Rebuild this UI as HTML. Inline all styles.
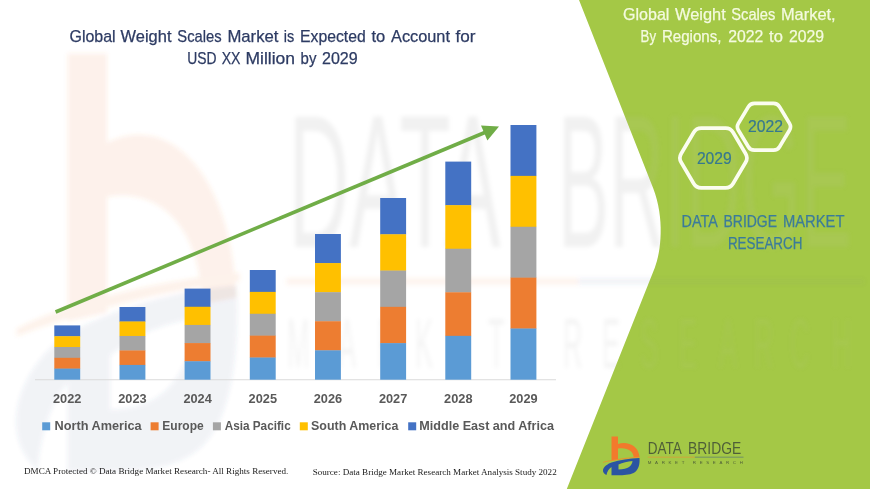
<!DOCTYPE html>
<html><head><meta charset="utf-8">
<style>
html,body{margin:0;padding:0;background:#fff;}
body{width:870px;height:489px;overflow:hidden;font-family:"Liberation Sans",sans-serif;}
svg{display:block;}
text{font-family:"Liberation Sans",sans-serif;}
.serif text,.serif{font-family:"Liberation Serif",serif;}
</style></head><body>
<svg width="870" height="489" viewBox="0 0 870 489">
<defs>
<filter id="b1" x="-5%" y="-5%" width="110%" height="110%"><feGaussianBlur stdDeviation="2.2"/></filter>
<g id="lgmark">
  <path d="M0,0 H6.5 V7.5 C16,4.5 27,9 28,20.5 L22.3,21.2 C22,14 15,10.5 6.5,12 V23.2 L0,24 Z" fill="#f27a2c"/>
  <path d="M-8.5,25.5 C0,23 15,21 28.5,20.3 L28.5,21.1 C15,22 0,24.3 -8.5,26.2 Z" fill="#e9922e"/>
  <path d="M-8.5,33.5 C-8,30 -3,27 0,26 C8,23.5 18,22 28,21.5 C28.5,28 27,34 22,36.5 C18,38.5 12,38.7 6.5,38.7 L0,38.7 L0,30.5 C-2.5,32 -4.5,35 -5,38.5 C-7,37.5 -8.8,36 -8.5,33.5 Z M7,28 C11,26 16,25 21,24.5 C20.5,29 17,33 7,33 Z" fill="#2b54a2" fill-rule="evenodd"/>
</g>
<g id="lgtext">
  <text x="36.25" y="17.8" font-size="17.4" textLength="34.1" lengthAdjust="spacingAndGlyphs">DATA</text>
  <text x="76.6" y="17.8" font-size="17.4" textLength="53.1" lengthAdjust="spacingAndGlyphs">BRIDGE</text>
  <text x="36.3" y="27.9" font-size="4.4" textLength="95" lengthAdjust="spacing">MARKET RESEARCH</text>
</g>
<clipPath id="pc"><path d="M579,0 L653.1,188 C664.9,218 661.1,252 654.7,268 L566.8,489 L870,489 L870,0 Z"/></clipPath>
<g id="wm" filter="url(#b1)">
 <g transform="translate(67.8,53.4) scale(6.03,10.8)">
  <g opacity="0.1">
  <path d="M0,0 H6.5 V8.3 C16,5.5 27,10.5 28,22.6 L22.3,23.2 C22,16 15,12.4 6.5,13.3 V24 L0,24.8 Z" fill="#ec7242"/>
  <path d="M-8.5,25.5 C0,23 15,21 28.5,20.3 L28.5,21.1 C15,22 0,24.3 -8.5,26.2 Z" fill="#ec7f42"/>
  <rect x="36.3" y="20.85" width="48.3" height="0.55" fill="#ec7f42"/>
  </g>
  <g opacity="0.075">
  <path d="M-8.5,33.5 C-8,30 -3,27 0,26 C8,23.5 18,22 28,21.5 C28.5,28 27,34 22,36.5 C18,38.5 12,38.7 6.5,38.7 L0,38.7 L0,30.5 C-2.5,32 -4.5,35 -5,38.5 C-7,37.5 -8.8,36 -8.5,33.5 Z M7,28 C11,26 16,25 21,24.5 C20.5,29 17,33 7,33 Z" fill="#2f4f8c" fill-rule="evenodd"/>
  <rect x="84.6" y="20.85" width="47.5" height="0.55" fill="#44608a"/>
  </g>
 </g>
 <g opacity="0.055" fill="#303030" font-size="189">
  <text x="288.6" y="247" textLength="212" lengthAdjust="spacingAndGlyphs">DATA</text>
  <text x="558" y="247" textLength="294" lengthAdjust="spacingAndGlyphs">BRIDGE</text>
 </g>
 <g opacity="0.045" fill="#303030" font-size="71">
  <text transform="translate(287,368) scale(0.38,1)">M</text>
  <text transform="translate(338,368) scale(0.38,1)">A</text>
  <text transform="translate(377,368) scale(0.38,1)">R</text>
  <text transform="translate(415,368) scale(0.38,1)">K</text>
  <text transform="translate(452,368) scale(0.38,1)">E</text>
  <text transform="translate(488,368) scale(0.38,1)">T</text>
  <text transform="translate(563,368) scale(0.38,1)">R</text>
  <text transform="translate(602,368) scale(0.38,1)">E</text>
  <text transform="translate(640,368) scale(0.38,1)">S</text>
  <text transform="translate(679,368) scale(0.38,1)">E</text>
  <text transform="translate(719,368) scale(0.38,1)">A</text>
  <text transform="translate(754,368) scale(0.38,1)">R</text>
  <text transform="translate(790,368) scale(0.38,1)">C</text>
  <text transform="translate(832,368) scale(0.38,1)">H</text>
 </g>
</g>
<g id="wmg" filter="url(#b1)">
 <g opacity="0.11" fill="#c4c8b8" font-size="189">
  <text x="558" y="247" textLength="294" lengthAdjust="spacingAndGlyphs">BRIDGE</text>
 </g>
 <g opacity="0.08" fill="#c4c8b8" font-size="71">
  <text transform="translate(287,368) scale(0.38,1)">M</text>
  <text transform="translate(338,368) scale(0.38,1)">A</text>
  <text transform="translate(377,368) scale(0.38,1)">R</text>
  <text transform="translate(415,368) scale(0.38,1)">K</text>
  <text transform="translate(452,368) scale(0.38,1)">E</text>
  <text transform="translate(488,368) scale(0.38,1)">T</text>
  <text transform="translate(563,368) scale(0.38,1)">R</text>
  <text transform="translate(602,368) scale(0.38,1)">E</text>
  <text transform="translate(640,368) scale(0.38,1)">S</text>
  <text transform="translate(679,368) scale(0.38,1)">E</text>
  <text transform="translate(719,368) scale(0.38,1)">A</text>
  <text transform="translate(754,368) scale(0.38,1)">R</text>
  <text transform="translate(790,368) scale(0.38,1)">C</text>
  <text transform="translate(832,368) scale(0.38,1)">H</text>
 </g>
 <rect x="578" y="278.6" width="286" height="6" fill="#5a7a9a" opacity="0.05"/>
</g>
</defs>
<rect width="870" height="489" fill="#ffffff"/>

<!-- watermark (white area) -->
<use href="#wm"/>

<!-- green panel -->
<path id="panel" d="M579,0 L653.1,188 C664.9,218 661.1,252 654.7,268 L566.8,489 L870,489 L870,0 Z" fill="#a4c846"/>
<g clip-path="url(#pc)"><use href="#wmg"/></g>

<!-- axis -->
<rect x="35" y="379.25" width="521" height="1" fill="#dadada"/>

<!-- bars -->
<g id="bars">
<rect x="54.3" y="325.40" width="25.9" height="11.10" fill="#4472c4"/>
<rect x="54.3" y="336.20" width="25.9" height="11.10" fill="#ffc000"/>
<rect x="54.3" y="347.00" width="25.9" height="11.10" fill="#a5a5a5"/>
<rect x="54.3" y="357.80" width="25.9" height="11.10" fill="#ed7d31"/>
<rect x="54.3" y="368.60" width="25.9" height="11.10" fill="#5b9bd5"/>
<rect x="119.5" y="307.00" width="25.9" height="14.78" fill="#4472c4"/>
<rect x="119.5" y="321.48" width="25.9" height="14.78" fill="#ffc000"/>
<rect x="119.5" y="335.96" width="25.9" height="14.78" fill="#a5a5a5"/>
<rect x="119.5" y="350.44" width="25.9" height="14.78" fill="#ed7d31"/>
<rect x="119.5" y="364.92" width="25.9" height="14.78" fill="#5b9bd5"/>
<rect x="184.6" y="288.60" width="25.9" height="18.46" fill="#4472c4"/>
<rect x="184.6" y="306.76" width="25.9" height="18.46" fill="#ffc000"/>
<rect x="184.6" y="324.92" width="25.9" height="18.46" fill="#a5a5a5"/>
<rect x="184.6" y="343.08" width="25.9" height="18.46" fill="#ed7d31"/>
<rect x="184.6" y="361.24" width="25.9" height="18.46" fill="#5b9bd5"/>
<rect x="249.8" y="270.00" width="25.9" height="22.18" fill="#4472c4"/>
<rect x="249.8" y="291.88" width="25.9" height="22.18" fill="#ffc000"/>
<rect x="249.8" y="313.76" width="25.9" height="22.18" fill="#a5a5a5"/>
<rect x="249.8" y="335.64" width="25.9" height="22.18" fill="#ed7d31"/>
<rect x="249.8" y="357.52" width="25.9" height="22.18" fill="#5b9bd5"/>
<rect x="315.0" y="234.00" width="25.9" height="29.38" fill="#4472c4"/>
<rect x="315.0" y="263.08" width="25.9" height="29.38" fill="#ffc000"/>
<rect x="315.0" y="292.16" width="25.9" height="29.38" fill="#a5a5a5"/>
<rect x="315.0" y="321.24" width="25.9" height="29.38" fill="#ed7d31"/>
<rect x="315.0" y="350.32" width="25.9" height="29.38" fill="#5b9bd5"/>
<rect x="380.2" y="198.00" width="25.9" height="36.58" fill="#4472c4"/>
<rect x="380.2" y="234.28" width="25.9" height="36.58" fill="#ffc000"/>
<rect x="380.2" y="270.56" width="25.9" height="36.58" fill="#a5a5a5"/>
<rect x="380.2" y="306.84" width="25.9" height="36.58" fill="#ed7d31"/>
<rect x="380.2" y="343.12" width="25.9" height="36.58" fill="#5b9bd5"/>
<rect x="445.3" y="161.60" width="25.9" height="43.86" fill="#4472c4"/>
<rect x="445.3" y="205.16" width="25.9" height="43.86" fill="#ffc000"/>
<rect x="445.3" y="248.72" width="25.9" height="43.86" fill="#a5a5a5"/>
<rect x="445.3" y="292.28" width="25.9" height="43.86" fill="#ed7d31"/>
<rect x="445.3" y="335.84" width="25.9" height="43.86" fill="#5b9bd5"/>
<rect x="510.5" y="125.00" width="25.9" height="51.18" fill="#4472c4"/>
<rect x="510.5" y="175.88" width="25.9" height="51.18" fill="#ffc000"/>
<rect x="510.5" y="226.76" width="25.9" height="51.18" fill="#a5a5a5"/>
<rect x="510.5" y="277.64" width="25.9" height="51.18" fill="#ed7d31"/>
<rect x="510.5" y="328.52" width="25.9" height="51.18" fill="#5b9bd5"/>
</g>

<!-- arrow -->
<g id="arrow">
  <line x1="55.6" y1="312" x2="486" y2="132" stroke="#70ad47" stroke-width="3.6"/>
  <path d="M499,126.6 L481,125.4 L487.4,140.6 Z" fill="#70ad47"/>
</g>

<!-- titles -->
<g fill="#2d3b63" stroke="#2d3b63" stroke-width="0.25" font-size="16.2">
  <text x="69.5" y="41.6" textLength="46.1" lengthAdjust="spacingAndGlyphs">Global</text>
  <text x="120.6" y="41.6" textLength="50.9" lengthAdjust="spacingAndGlyphs">Weight</text>
  <text x="177.3" y="41.6" textLength="44.3" lengthAdjust="spacingAndGlyphs">Scales</text>
  <text x="227.4" y="41.6" textLength="51.1" lengthAdjust="spacingAndGlyphs">Market</text>
  <text x="283.8" y="41.6" textLength="10.5" lengthAdjust="spacingAndGlyphs">is</text>
  <text x="300.0" y="41.6" textLength="65.7" lengthAdjust="spacingAndGlyphs">Expected</text>
  <text x="371.5" y="41.6" textLength="13.8" lengthAdjust="spacingAndGlyphs">to</text>
  <text x="391.0" y="41.6" textLength="59.0" lengthAdjust="spacingAndGlyphs">Account</text>
  <text x="455.5" y="41.6" textLength="20.0" lengthAdjust="spacingAndGlyphs">for</text>
  <text x="187.3" y="63.8" textLength="29.3" lengthAdjust="spacingAndGlyphs">USD</text>
  <text x="221.7" y="63.8" textLength="18.8" lengthAdjust="spacingAndGlyphs">XX</text>
  <text x="245.5" y="63.8" textLength="49.5" lengthAdjust="spacingAndGlyphs">Million</text>
  <text x="300.6" y="63.8" textLength="15.8" lengthAdjust="spacingAndGlyphs">by</text>
  <text x="322.0" y="63.8" textLength="35.7" lengthAdjust="spacingAndGlyphs">2029</text>
</g>
<g fill="#f4fadf" stroke="#f4fadf" stroke-width="0.25" font-size="16.2">
  <text x="623.0" y="20.1" textLength="46.4" lengthAdjust="spacingAndGlyphs">Global</text>
  <text x="675.1" y="20.1" textLength="50.7" lengthAdjust="spacingAndGlyphs">Weight</text>
  <text x="731.3" y="20.1" textLength="44.1" lengthAdjust="spacingAndGlyphs">Scales</text>
  <text x="780.9" y="20.1" textLength="54.8" lengthAdjust="spacingAndGlyphs">Market,</text>
  <text x="640.6" y="41.7" textLength="15.5" lengthAdjust="spacingAndGlyphs">By</text>
  <text x="661.9" y="41.7" textLength="59.6" lengthAdjust="spacingAndGlyphs">Regions,</text>
  <text x="728.3" y="41.7" textLength="35.1" lengthAdjust="spacingAndGlyphs">2022</text>
  <text x="769.1" y="41.7" textLength="13.8" lengthAdjust="spacingAndGlyphs">to</text>
  <text x="788.9" y="41.7" textLength="35.1" lengthAdjust="spacingAndGlyphs">2029</text>
</g>

<!-- hexagons -->
<g fill="none" stroke="#fbfdf0" stroke-width="3.7" stroke-linejoin="round">
  <path d="M738.40,130.23 Q736.35,126.80 738.40,123.37 L748.30,106.83 Q750.35,103.40 754.35,103.40 L773.55,103.40 Q777.55,103.40 779.60,106.83 L789.50,123.37 Q791.55,126.80 789.50,130.23 L779.60,146.77 Q777.55,150.20 773.55,150.20 L754.35,150.20 Q750.35,150.20 748.30,146.77 Z"/>
  <path d="M681.14,162.31 Q678.60,158.00 681.14,153.69 L693.66,132.51 Q696.20,128.20 701.20,128.20 L725.60,128.20 Q730.60,128.20 733.14,132.51 L745.66,153.69 Q748.20,158.00 745.66,162.31 L733.14,183.49 Q730.60,187.80 725.60,187.80 L701.20,187.80 Q696.20,187.80 693.66,183.49 Z"/>
</g>
<g fill="#36788f" stroke="#36788f" stroke-width="0.2" font-size="16.1">
  <text x="747.9" y="132.3" textLength="35" lengthAdjust="spacingAndGlyphs">2022</text>
  <text x="696.9" y="163.5" textLength="34.8" lengthAdjust="spacingAndGlyphs">2029</text>
</g>
<g fill="#3b7b9a" stroke="#3b7b9a" stroke-width="0.25" font-size="16">
  <text x="681.6" y="227.2" textLength="36.3" lengthAdjust="spacingAndGlyphs">DATA</text>
  <text x="723.5" y="227.2" textLength="53.5" lengthAdjust="spacingAndGlyphs">BRIDGE</text>
  <text x="782.9" y="227.2" textLength="61.5" lengthAdjust="spacingAndGlyphs">MARKET</text>
  <text x="727.9" y="248.7" textLength="74.5" lengthAdjust="spacingAndGlyphs">RESEARCH</text>
</g>

<!-- year labels -->
<g id="years" fill="#595959" font-size="12.8" font-weight="bold">
<text x="53.0" y="402.7" textLength="28.4" lengthAdjust="spacingAndGlyphs">2022</text>
<text x="118.2" y="402.7" textLength="28.4" lengthAdjust="spacingAndGlyphs">2023</text>
<text x="183.4" y="402.7" textLength="28.4" lengthAdjust="spacingAndGlyphs">2024</text>
<text x="248.6" y="402.7" textLength="28.4" lengthAdjust="spacingAndGlyphs">2025</text>
<text x="313.7" y="402.7" textLength="28.4" lengthAdjust="spacingAndGlyphs">2026</text>
<text x="378.9" y="402.7" textLength="28.4" lengthAdjust="spacingAndGlyphs">2027</text>
<text x="444.1" y="402.7" textLength="28.4" lengthAdjust="spacingAndGlyphs">2028</text>
<text x="509.2" y="402.7" textLength="28.4" lengthAdjust="spacingAndGlyphs">2029</text>
</g>

<!-- legend -->
<g id="legend" font-size="13" font-weight="bold" fill="#595959">
  <rect x="42.2" y="422.3" width="8" height="8" fill="#5b9bd5"/>
  <text x="54.5" y="430.4" textLength="87.2" lengthAdjust="spacingAndGlyphs">North America</text>
  <rect x="150.6" y="422.3" width="8" height="8" fill="#ed7d31"/>
  <text x="162.3" y="430.4" textLength="41.4" lengthAdjust="spacingAndGlyphs">Europe</text>
  <rect x="212.9" y="422.3" width="8" height="8" fill="#a5a5a5"/>
  <text x="224.7" y="430.4" textLength="66" lengthAdjust="spacingAndGlyphs">Asia Pacific</text>
  <rect x="299.8" y="422.3" width="8" height="8" fill="#ffc000"/>
  <text x="311" y="430.4" textLength="87.3" lengthAdjust="spacingAndGlyphs">South America</text>
  <rect x="408.2" y="422.3" width="8" height="8" fill="#4472c4"/>
  <text x="419.3" y="430.4" textLength="134.7" lengthAdjust="spacingAndGlyphs">Middle East and Africa</text>
</g>

<!-- footer -->
<g class="serif" fill="#1a1a1a" font-size="9">
  <text x="24" y="474" textLength="264.3" lengthAdjust="spacingAndGlyphs">DMCA Protected © Data Bridge Market Research- All Rights Reserved.</text>
  <text x="312.7" y="474.6" textLength="244" lengthAdjust="spacingAndGlyphs">Source: Data Bridge Market Research Market Analysis Study 2022</text>
</g>

<!-- logo -->
<g id="logo" transform="translate(611.5,436.5)">
  <use href="#lgmark"/>
  <use href="#lgtext" fill="#4f5f38"/>
  <rect x="36.3" y="20.2" width="47" height="0.9" fill="#d3a23c"/>
  <rect x="83.3" y="20.2" width="48.7" height="0.9" fill="#6b8a6a"/>
</g>
</svg>
</body></html>
